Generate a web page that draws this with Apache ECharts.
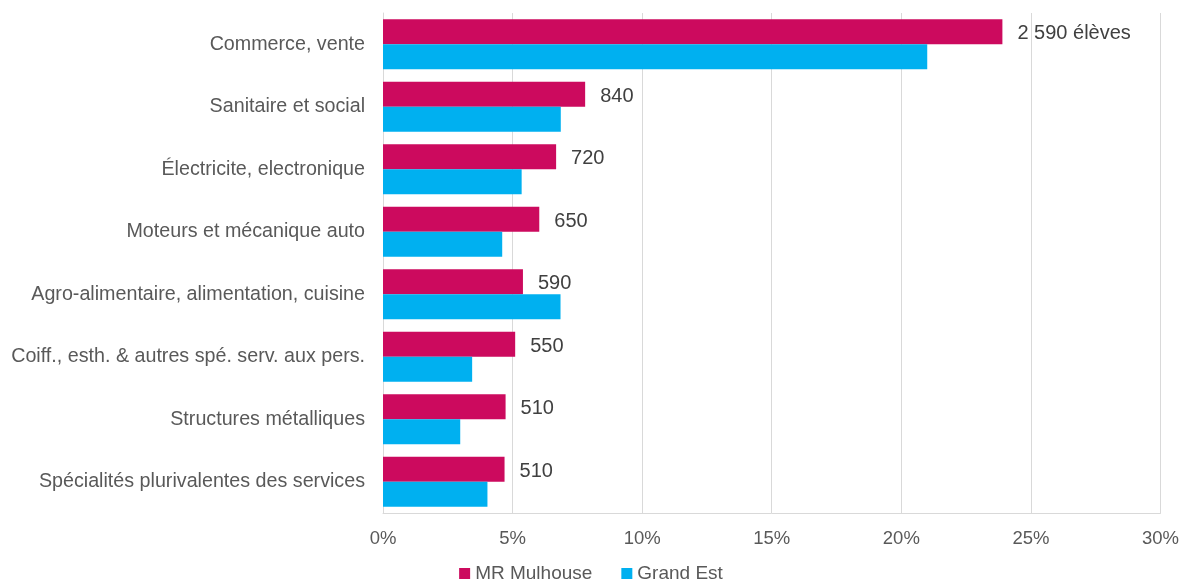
<!DOCTYPE html>
<html>
<head>
<meta charset="utf-8">
<script src="https://cdn.jsdelivr.net/npm/echarts@6/dist/echarts.min.js"></script>
<style>
html,body{margin:0;padding:0;background:#fff;}
#c{width:1182px;height:581px;}
</style>
</head>
<body>
<div id="c"></div>
<script>
const categories = [
  "Commerce, vente",
  "Sanitaire et social",
  "Électricite, electronique",
  "Moteurs et mécanique auto",
  "Agro-alimentaire, alimentation, cuisine",
  "Coiff., esth. & autres spé. serv. aux pers.",
  "Structures métalliques",
  "Spécialités plurivalentes des services"
];
const mrMulhouse = [23.9, 7.8, 6.68, 6.03, 5.4, 5.1, 4.73, 4.69];
const grandEst = [21.0, 6.86, 5.35, 4.6, 6.85, 3.44, 2.98, 4.03];
const mrLabels = ["2 590 élèves", "840", "720", "650", "590", "550", "510", "510"];
const xTicks = [0, 5, 10, 15, 20, 25, 30];

const chart = echarts.init(document.getElementById('c'), null, {renderer: 'canvas'});
const font = 'Liberation Sans, Arial, sans-serif';
chart.setOption({
  animation: false,
  textStyle: {fontFamily: font},
  grid: {left: 383, right: 21, top: 13, bottom: 68, containLabel: false},
  legend: {
    top: 564,
    left: 'center',
    padding: 0,
    itemWidth: 11,
    itemHeight: 11,
    itemGap: 29,
    icon: 'rect',
    textStyle: {fontSize: 19, color: '#595959', fontFamily: font},
    data: ['MR Mulhouse', 'Grand Est']
  },
  xAxis: {
    type: 'value',
    min: xTicks[0],
    max: xTicks[xTicks.length - 1],
    interval: 5,
    axisLine: {show: true, lineStyle: {color: '#D9D9D9', width: 1}},
    axisTick: {show: false},
    splitLine: {show: true, lineStyle: {color: '#D9D9D9', width: 1}},
    axisLabel: {fontSize: 18.5, color: '#595959', margin: 16, formatter: v => v + '%', fontFamily: font}
  },
  yAxis: {
    type: 'category',
    inverse: true,
    data: categories,
    axisLine: {show: true, lineStyle: {color: '#D9D9D9', width: 1}},
    axisTick: {show: false},
    axisLabel: {fontSize: 19.7, color: '#595959', margin: 18, fontFamily: font}
  },
  series: [
    {
      name: 'MR Mulhouse',
      type: 'bar',
      data: mrMulhouse,
      barGap: '0%',
      barCategoryGap: '20%',
      itemStyle: {color: '#CC0A5E'},
      label: {
        show: true,
        position: 'right',
        distance: 15,
        offset: [0, 2],
        fontSize: 20,
        color: '#404040',
        fontFamily: font,
        formatter: p => mrLabels[p.dataIndex]
      }
    },
    {
      name: 'Grand Est',
      type: 'bar',
      data: grandEst,
      barGap: '0%',
      barCategoryGap: '20%',
      itemStyle: {color: '#00B0F0'}
    }
  ]
});
</script>
</body>
</html>
